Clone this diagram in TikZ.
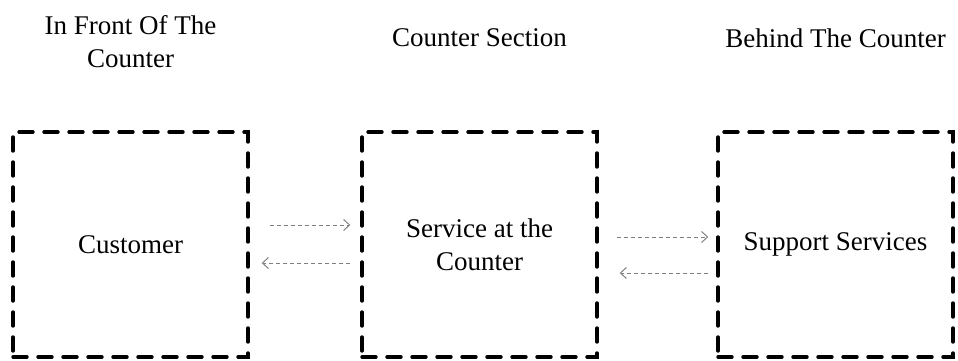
\documentclass[tikz,border=0pt]{standalone}
\usepackage{fontspec}
\setmainfont{Liberation Serif}
\usetikzlibrary{arrows.meta}
\begin{document}
\begin{tikzpicture}[x=1pt,y=1pt,
  zone/.style={draw=black, line width=3.4pt, dash pattern=on 14pt off 11pt,
    line cap=round, minimum width=235pt, minimum height=225pt,
    inner sep=0pt, align=center, font=\fontsize{27}{33}\selectfont},
  heading/.style={align=center, inner sep=0pt, font=\fontsize{27}{33}\selectfont},
  flow/.style={draw=black!50, line width=1pt, dash pattern=on 4pt off 3pt,
    -{Straight Barb[length=6pt,width=11pt,line width=1pt]}}]
  \useasboundingbox (0,0) rectangle (958,360);

  % three service zones
  \node[zone] (cust) at (130.5,115.5) {Customer};
  \node[zone] (serv) at (479.5,115.5) {Service at the\\Counter};
  \node[zone] (supp) at (835.5,115.5) {Support Services};

  % column headings
  \node[heading] (h1) at (130.5,318) {In Front Of The\\Counter};
  \node[heading] (h2) at (479.5,322) {Counter Section};
  \node[heading] (h3) at (835.5,322) {Behind The Counter};

  % exchanges between the zones
  \draw[flow, shorten <=20pt, shorten >=10pt]
    ([yshift=19.5pt]cust.east) -- ([yshift=19.5pt]serv.west);
  \draw[flow, shorten <=10pt, shorten >=12pt]
    ([yshift=-18.5pt]serv.west) -- ([yshift=-18.5pt]cust.east);
  \draw[flow, shorten <=18pt, shorten >=8pt]
    ([yshift=7.5pt]serv.east) -- ([yshift=7.5pt]supp.west);
  \draw[flow, shorten <=8pt, shorten >=21pt]
    ([yshift=-28.5pt]supp.west) -- ([yshift=-28.5pt]serv.east);
\end{tikzpicture}
\end{document}
